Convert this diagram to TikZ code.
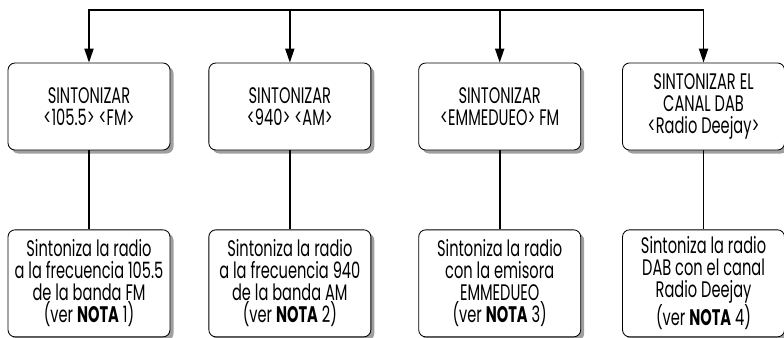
\documentclass[tikz,border=0pt]{standalone}
\usepackage{fontspec}
\setmainfont[FakeStretch=0.65]{Poppins}
\usetikzlibrary{arrows.meta, positioning, shadows}

\begin{document}
\begin{tikzpicture}[
  node distance = 1.975cm,
  tunebox/.style = {rectangle, rounded corners=5pt, draw=black, line width=0.6pt,
                    fill=white, minimum width=4.05cm, minimum height=2.175cm,
                    align=center, inner sep=1pt,
                    font=\fontsize{16}{15.6}\selectfont,
                    drop shadow={shadow xshift=2.5pt, shadow yshift=-2.5pt,
                                 fill=gray!75, opacity=1}},
  notebox/.style = {tunebox, minimum height=2.675cm},
  link/.style = {line width=1.2pt, black},
  arr/.style = {link, -{Triangle[length=10pt, width=6.5pt]}}
]
\useasboundingbox (0,0) rectangle (19.6,-8.425);
% top row
\node[tunebox] (t1) at (2.225,-2.6625) {SINTONIZAR\\ <105.5> <FM>};
\node[tunebox, right=0.95cm of t1]  (t2) {SINTONIZAR\\ <940> <AM>};
\node[tunebox, right=1.175cm of t2] (t3) {SINTONIZAR\\ <EMMEDUEO> FM};
\node[tunebox, right=1.025cm of t3] (t4) {SINTONIZAR EL\\ CANAL DAB\\ <Radio Deejay>};
% bottom row
\node[notebox, below=of t1] (n1) {Sintoniza la radio\\ a la frecuencia 105.5\\ de la banda FM\\ (ver \textbf{NOTA} 1)};
\node[notebox, below=of t2] (n2) {Sintoniza la radio\\ a la frecuencia 940\\ de la banda AM\\ (ver \textbf{NOTA} 2)};
\node[notebox, below=of t3] (n3) {Sintoniza la radio\\ con la emisora\\ EMMEDUEO\\ (ver \textbf{NOTA} 3)};
\node[notebox, below=of t4] (n4) {Sintoniza la radio\\ DAB con el canal\\ Radio Deejay\\ (ver \textbf{NOTA} 4)};
% connectors
\coordinate (bar) at (0,-0.25);
\draw[link, line cap=rect] (t1.north |- bar) -- (t4.north |- bar);
\foreach \i in {1,2,3,4}{
  \draw[arr] (t\i.north |- bar) -- (t\i.north);
  \draw[link] (t\i) -- (n\i);
}
\end{tikzpicture}
\end{document}
